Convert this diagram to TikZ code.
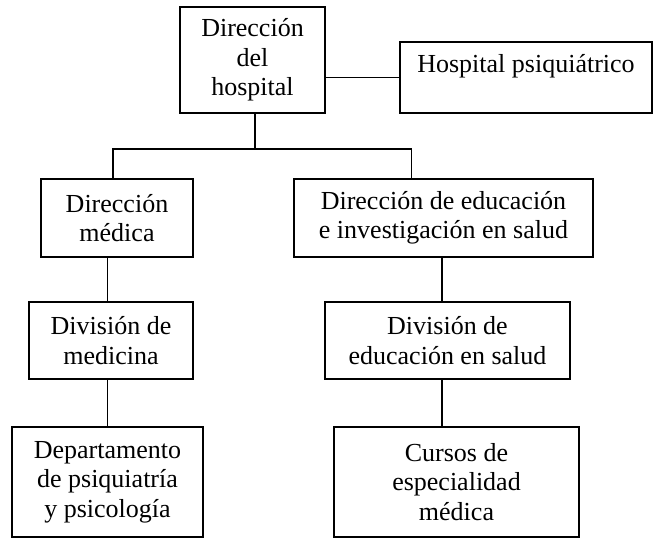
\documentclass[tikz,border=0pt]{standalone}
\usepackage{fontspec}
\setmainfont{Liberation Serif}
\usepackage{tikz}
\usetikzlibrary{positioning}

\begin{document}
\begin{tikzpicture}[x=1pt, y=-1pt,
    orgbox/.style={rectangle, draw, line width=2pt, inner sep=0pt, align=center,
        font=\fontsize{26}{29.5}\selectfont},
    link/.style={line width=1.1pt}
]
\useasboundingbox (0,0) rectangle (654,540);
\node[orgbox, minimum width=145pt, minimum height=106pt] (dirhosp) at (252.5,60) {Dirección\\del\\hospital};
\node[orgbox, minimum width=252pt, text height=31pt, text depth=40pt, anchor=base] (hosppsi) at (526,73) {Hospital psiquiátrico};
\node[orgbox, minimum width=152pt, minimum height=78pt] (dirmed) at (117,218) {Dirección\\médica};
\node[orgbox, minimum width=299pt, minimum height=78pt] (direduc) at (443.5,218) {Dirección de educación\\e investigación en salud};
\node[orgbox, minimum width=164pt, minimum height=77pt] (divmed) at (111,340.5) {División de\\medicina};
\node[orgbox, minimum width=245pt, minimum height=77pt] (diveduc) at (447.5,340.5) {División de\\educación en salud};
\node[orgbox, minimum width=191pt, minimum height=110pt] (depto) at (107.5,482) {Departamento\\de psiquiatría\\y psicología};
\node[orgbox, minimum width=245pt, minimum height=110pt] (cursos) at (456.5,482) {Cursos de\\especialidad\\médica};

% lineas
\coordinate (bus) at ([xshift=2.5pt]dirhosp.south |- 0,149);
\draw[link] (hosppsi.west) -- (hosppsi.west -| dirhosp.east);
\draw[link] ([xshift=2.5pt]dirhosp.south) -- (bus);
\draw[link] (bus) -| ([xshift=-4pt]dirmed.north);
\draw[link] (bus) -| ([xshift=-32pt]direduc.north);
\draw[link] (dirmed.south -| depto) -- (divmed.north -| depto);
\draw[link] (divmed.south -| depto) -- (depto.north);
\draw[link] ([xshift=-1.5pt]direduc.south) -- ([xshift=-1.5pt]direduc.south |- diveduc.north);
\draw[link] ([xshift=-1.5pt]direduc.south |- diveduc.south) -- ([xshift=-1.5pt]direduc.south |- cursos.north);
\end{tikzpicture}
\end{document}
